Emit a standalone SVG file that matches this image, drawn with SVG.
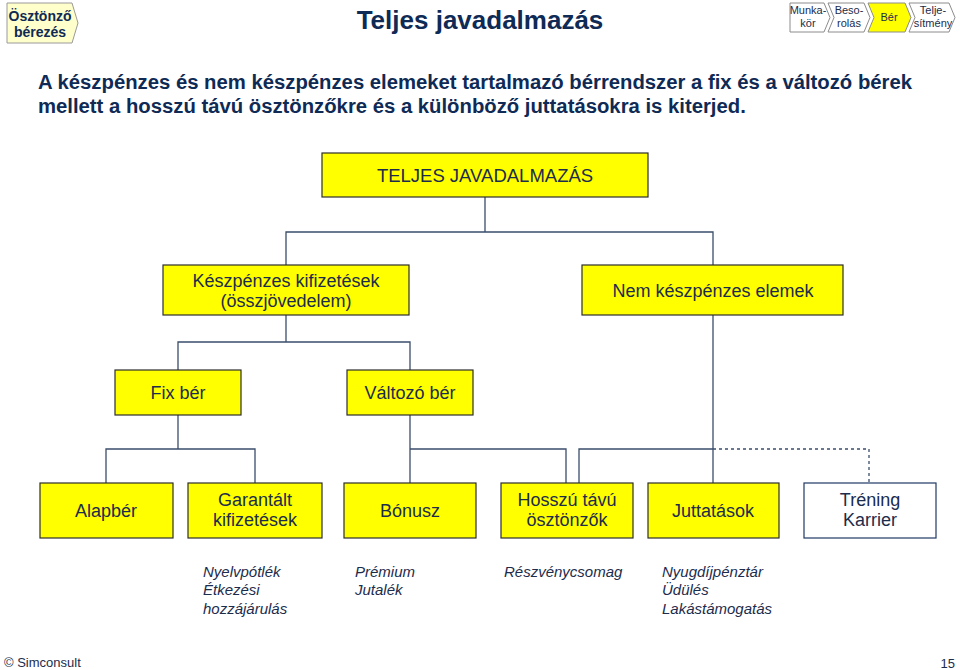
<svg xmlns="http://www.w3.org/2000/svg" width="960" height="670" viewBox="0 0 960 670">
<style>
  text { font-family: "Liberation Sans", Arial, sans-serif; fill: #0E2A55; }
  .box { fill: #FFFF00; stroke: #2E2E2E; stroke-width: 1.2; }
  .wbox { fill: #FFFFFF; stroke: #1F3864; stroke-width: 1.2; }
  .bt { font-size: 18px; text-anchor: middle; fill: #1C2C4C; }
  .it { font-size: 15px; font-style: italic; fill: #1C2C4C; }
  .conn line, .conn polyline { stroke: #3A4D6B; stroke-width: 1.3; fill: none; }
  .dash { stroke-dasharray: 3 3; }
  .nav { fill: #FFFFFF; stroke: #8C8C8C; stroke-width: 1; }
  .nt { font-size: 11px; text-anchor: middle; fill: #1C2C4C; }
</style>
<rect width="960" height="670" fill="#FFFFFF"/>

<g id="header-left">
  <path d="M7,3 H72 L78,23 L72,43 H7 Z" fill="#FFFFCC" stroke="#9A9A9A" stroke-width="1"/>
  <text x="40" y="21" font-size="14" font-weight="bold" text-anchor="middle">Ösztönző</text>
  <text x="40" y="37" font-size="14" font-weight="bold" text-anchor="middle">bérezés</text>
</g>

<text x="480" y="29" font-size="26" font-weight="bold" text-anchor="middle">Teljes javadalmazás</text>

<g id="nav">
  <g id="nav-munkakor">
    <path class="nav" d="M790,3 H824 L830,17.5 L824,32 H790 Z"/>
    <text class="nt" x="808" y="14">Munka-</text>
    <text class="nt" x="808" y="27">kör</text>
  </g>
  <g id="nav-besorolas">
    <path class="nav" d="M828,3 H864 L870,17.5 L864,32 H828 L834,17.5 Z"/>
    <text class="nt" x="849" y="14">Beso-</text>
    <text class="nt" x="849" y="27">rolás</text>
  </g>
  <g id="nav-ber">
    <path class="nav" d="M868,3 H905 L911,17.5 L905,32 H868 L874,17.5 Z" style="fill:#FFFF00"/>
    <text class="nt" x="889" y="21">Bér</text>
  </g>
  <g id="nav-teljesitmeny">
    <path class="nav" d="M909,3 H949 L955,17.5 L949,32 H909 L915,17.5 Z"/>
    <text class="nt" x="933" y="14">Telje-</text>
    <text class="nt" x="933" y="27">sítmény</text>
  </g>
</g>

<text x="38" y="89" font-size="20.3" font-weight="bold">A készpénzes és nem készpénzes elemeket tartalmazó bérrendszer a fix és a változó bérek</text>
<text x="38" y="113" font-size="20.3" font-weight="bold">mellett a hosszú távú ösztönzőkre és a különböző juttatásokra is kiterjed.</text>

<g class="conn">
  <line x1="485" y1="197" x2="485" y2="232"/>
  <polyline points="286,265 286,232 713,232 713,265"/>
  <line x1="286" y1="315" x2="286" y2="342"/>
  <polyline points="178,370 178,342 410,342 410,370"/>
  <line x1="178" y1="415" x2="178" y2="449"/>
  <polyline points="106,483 106,449 255,449 255,483"/>
  <line x1="410" y1="415" x2="410" y2="483"/>
  <polyline points="410,449 566,449 566,483"/>
  <line x1="713" y1="315" x2="713" y2="483"/>
  <polyline points="579,483 579,449 713,449"/>
  <polyline class="dash" points="713,449 869,449 869,483"/>
</g>

<g id="n-teljes">
  <rect class="box" x="322" y="153" width="326" height="44"/>
  <text class="bt" x="485" y="182" style="font-size:18.5px">TELJES JAVADALMAZÁS</text>
</g>
<g id="n-keszpenzes">
  <rect class="box" x="163" y="265" width="246" height="50"/>
  <text class="bt" x="286" y="287">Készpénzes kifizetések</text>
  <text class="bt" x="286" y="307">(összjövedelem)</text>
</g>
<g id="n-nemkeszpenzes">
  <rect class="box" x="582" y="265" width="261" height="50"/>
  <text class="bt" x="713" y="297">Nem készpénzes elemek</text>
</g>
<g id="n-fixber">
  <rect class="box" x="115" y="370" width="126" height="45"/>
  <text class="bt" x="178" y="399">Fix bér</text>
</g>
<g id="n-valtozober">
  <rect class="box" x="347" y="370" width="126" height="45"/>
  <text class="bt" x="410" y="399">Változó bér</text>
</g>
<g id="n-alapber">
  <rect class="box" x="40" y="483" width="133" height="55"/>
  <text class="bt" x="106" y="517">Alapbér</text>
</g>
<g id="n-garantalt">
  <rect class="box" x="188" y="483" width="134" height="55"/>
  <text class="bt" x="255" y="506">Garantált</text>
  <text class="bt" x="255" y="526">kifizetések</text>
</g>
<g id="n-bonusz">
  <rect class="box" x="344" y="483" width="132" height="55"/>
  <text class="bt" x="410" y="517">Bónusz</text>
</g>
<g id="n-hosszu">
  <rect class="box" x="501" y="483" width="132" height="55"/>
  <text class="bt" x="567" y="506">Hosszú távú</text>
  <text class="bt" x="567" y="526">ösztönzők</text>
</g>
<g id="n-juttatasok">
  <rect class="box" x="648" y="483" width="131" height="55"/>
  <text class="bt" x="713" y="517">Juttatások</text>
</g>
<g id="n-trening">
  <rect class="wbox" x="804" y="483" width="132" height="55"/>
  <text class="bt" x="870" y="506">Tréning</text>
  <text class="bt" x="870" y="526">Karrier</text>
</g>

<g id="examples">
  <text class="it" x="203" y="577">Nyelvpótlék</text>
  <text class="it" x="203" y="595">Étkezési</text>
  <text class="it" x="203" y="614">hozzájárulás</text>
  <text class="it" x="355" y="577">Prémium</text>
  <text class="it" x="355" y="595">Jutalék</text>
  <text class="it" x="504" y="577">Részvénycsomag</text>
  <text class="it" x="662" y="577">Nyugdíjpénztár</text>
  <text class="it" x="662" y="595">Üdülés</text>
  <text class="it" x="662" y="614">Lakástámogatás</text>
</g>

<text x="4" y="667" font-size="13" style="fill:#1C2C4C">© Simconsult</text>
<text x="955" y="668" font-size="13" text-anchor="end" style="fill:#1C2C4C">15</text>
</svg>
